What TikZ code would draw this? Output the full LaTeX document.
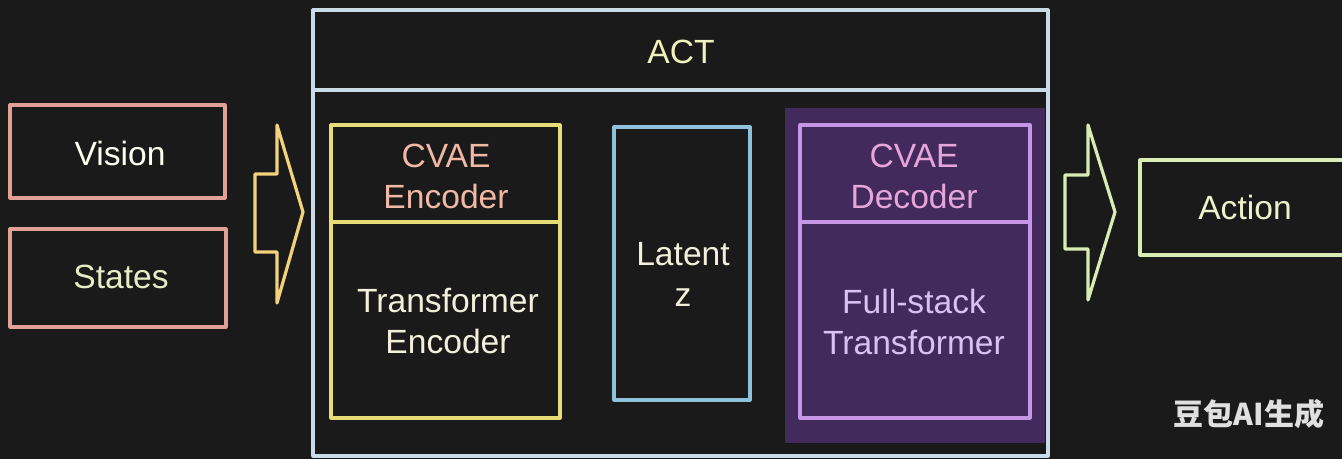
\documentclass[tikz,border=0pt]{standalone}
\usepackage{fontspec}
\setmainfont{Liberation Sans}
\newfontfamily\cjkfont{Noto Sans CJK SC}
\usepackage{tikz}
\usetikzlibrary{positioning,calc}
\definecolor{board}{HTML}{1A1A1A}
\definecolor{pinkline}{HTML}{E3A096}
\definecolor{arrowyellow}{HTML}{F2D27A}
\definecolor{actline}{HTML}{C9DBE6}
\definecolor{acttext}{HTML}{EEF2BC}
\definecolor{encline}{HTML}{E6DC78}
\definecolor{enctitle}{HTML}{F2B8A6}
\definecolor{bodytext}{HTML}{F2F0DC}
\definecolor{latentline}{HTML}{8FC0DC}
\definecolor{purplefill}{HTML}{422A5C}
\definecolor{decline}{HTML}{C596E6}
\definecolor{dectitle}{HTML}{E6A6DC}
\definecolor{decbody}{HTML}{D7C2F2}
\definecolor{greenline}{HTML}{D8ECB4}
\definecolor{actiontext}{HTML}{EEF2CC}
\definecolor{statestext}{HTML}{E6ECC4}
\newcommand{\chalkfont}{\fontsize{16.8}{20.5}\selectfont}

\begin{document}
\begin{tikzpicture}[x=0.5pt,y=-0.5pt,
    chalk/.style={line width=1.6pt,line join=round},
    box/.style={chalk,draw,rectangle,inner sep=0pt},
    label text/.style={font=\chalkfont,align=center,inner sep=0pt}]
    \fill[board] (0,0) rectangle (1342,459);
    \useasboundingbox (0,0) rectangle (1342,459);
    % inputs
    \node[box,draw=pinkline,minimum width=107.5pt,minimum height=46.5pt] (vision) at (117.5,151.5) {};
    \node[label text,text=white!95!yellow] at (120,153) {Vision};
    \node[box,draw=pinkline,minimum width=108pt,minimum height=49pt] (states) at (118,278) {};
    \node[label text,text=statestext] at (121,277) {States};
    \draw[chalk,draw=arrowyellow] (255,174) -- (277,174) -- (277,125) -- (303,212)
        -- (277,303) -- (277,252) -- (255,252) -- cycle;
    % ACT frame
    \draw[chalk,draw=actline] (313,10) rectangle (1048,456);
    \draw[chalk,draw=actline] (313,90) -- (1048,90);
    \node[label text,text=acttext] (act) at (681,52) {ACT};
    % encoder
    \node[box,draw=encline,minimum width=114.5pt,minimum height=146.5pt] (encoder) at (445.5,271.5) {};
    \draw[chalk,draw=encline] (331,222) -- (560,222);
    \node[label text,text=enctitle] (enctop) at (446,176) {CVAE\\Encoder};
    \node[label text,text=bodytext] (encbody) at (448,321) {Transformer\\Encoder};
    % latent
    \node[box,draw=latentline,minimum width=68pt,minimum height=136.5pt] (latent) at (682,263.5) {};
    \node[label text,text=bodytext] at (683,274) {Latent\\z};
    % decoder
    \fill[purplefill] (785,108) rectangle (1045,443);
    \node[box,draw=decline,minimum width=115pt,minimum height=146.5pt] (decoder) at (915,271.5) {};
    \draw[chalk,draw=decline] (800,222) -- (1030,222);
    \node[label text,text=dectitle] (dectop) at (914,176) {CVAE\\Decoder};
    \node[label text,text=decbody] (decbody) at (914,322) {Full-stack\\Transformer};
    % output
    \draw[chalk,draw=greenline] (1065,175) -- (1088,175) -- (1088,125) -- (1115,212)
        -- (1088,300) -- (1088,249) -- (1065,249) -- cycle;
    \node[box,draw=greenline,minimum width=105pt,minimum height=47.5pt] (action) at (1245,207.5) {};
    \node[label text,text=actiontext] at (action) {Action};
    \node[font=\cjkfont\bfseries\fontsize{15}{18}\selectfont,text=white!88!black,inner sep=0pt] (mark) at (1249,414) {豆包AI生成};
\end{tikzpicture}
\end{document}
